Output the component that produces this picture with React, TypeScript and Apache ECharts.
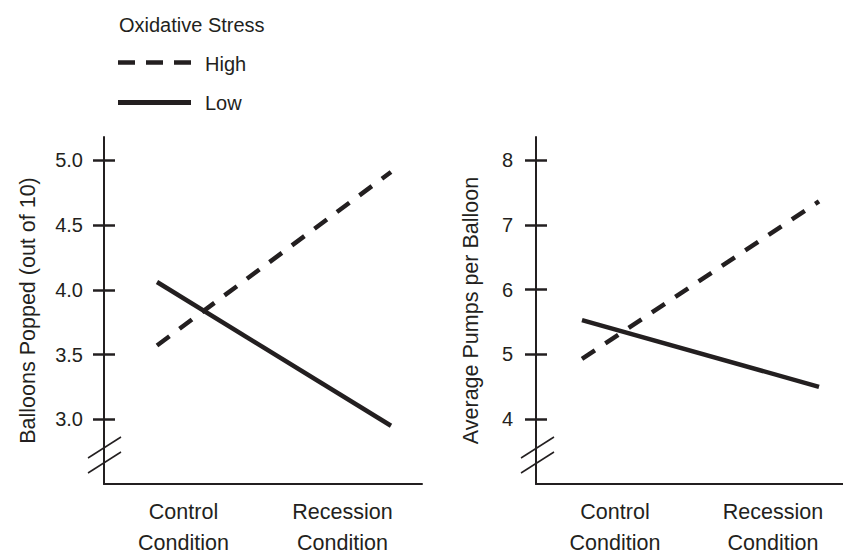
import { useEffect, useRef } from "react";
import * as echarts from "echarts";

const conditions = ["Control\nCondition", "Recession\nCondition"];
const stressLevels = ["High", "Low"];
const legendTitle = "Oxidative Stress";
const balloonsHigh = [3.57, 4.91];
const balloonsLow = [4.06, 2.95];
const pumpsHigh = [4.93, 7.36];
const pumpsLow = [5.53, 4.5];
const balloonsTicks = [3.0, 3.5, 4.0, 4.5, 5.0];
const pumpsTicks = [4, 5, 6, 7, 8];
const balloonsTitle = "Balloons Popped (out of 10)";
const pumpsTitle = "Average Pumps per Balloon";

const INK = "#231f20";
const FONT = "'Liberation Sans', Arial, sans-serif";

function frameX(gridIndex: number) {
  return {
    gridIndex,
    type: "category",
    data: conditions,
    boundaryGap: true,
    axisLine: { show: true, onZero: false, lineStyle: { color: INK, width: 2 } },
    axisTick: { show: false },
    axisLabel: {
      interval: 0,
      hideOverlap: false,
      margin: 6,
      formatter: (v: string) => {
        const [first, second] = v.split("\n");
        return `{a|${first}}\n{b|${second}}`;
      },
      rich: {
        a: { color: INK, fontSize: 21.5, fontFamily: FONT, lineHeight: 44 },
        b: { color: INK, fontSize: 21.5, fontFamily: FONT, lineHeight: 18 },
      },
    },
    splitLine: { show: false },
  };
}

function dataX(gridIndex: number) {
  return { gridIndex, type: "category", data: conditions, boundaryGap: false, show: false };
}

function frameY(gridIndex: number, min: number, max: number, ticks: number[], title: string, nameGap: number, digits: number, margin: number) {
  return [
    {
      gridIndex,
      type: "value",
      position: "left",
      min,
      max,
      name: title,
      nameLocation: "middle",
      nameGap,
      nameTextStyle: { color: INK, fontSize: 21.5, fontFamily: FONT },
      axisLine: { show: true, lineStyle: { color: INK, width: 2 } },
      axisTick: { show: true, inside: false, length: 11, customValues: ticks, lineStyle: { color: INK, width: 2.5 } },
      axisLabel: {
        show: true,
        customValues: ticks,
        color: INK,
        fontSize: 20,
        fontFamily: FONT,
        margin,
        formatter: (v: number) => v.toFixed(digits),
      },
      splitLine: { show: false },
    },
    {
      gridIndex,
      type: "value",
      position: "left",
      min,
      max,
      axisLine: { show: false },
      axisTick: { show: true, inside: true, length: 11, customValues: ticks, lineStyle: { color: INK, width: 2.5 } },
      axisLabel: { show: false },
      splitLine: { show: false },
    },
  ];
}

function dataY(gridIndex: number, min: number, max: number) {
  return { gridIndex, type: "value", min, max, show: false, splitLine: { show: false } };
}

function lineSeries(name: string, data: number[], xAxisIndex: number, yAxisIndex: number, dashed: boolean) {
  return {
    type: "line",
    name,
    data,
    xAxisIndex,
    yAxisIndex,
    symbol: "none",
    silent: true,
    lineStyle: { color: INK, width: 4.5, type: dashed ? [15.5, 12.5] : "solid", cap: "butt" },
  };
}

function breakMarks(x: number) {
  return [
    { type: "line", shape: { x1: x - 16, y1: 458, x2: x + 17, y2: 437 }, style: { stroke: INK, lineWidth: 1.5 } },
    { type: "line", shape: { x1: x - 16, y1: 473, x2: x + 17, y2: 452 }, style: { stroke: INK, lineWidth: 1.5 } },
  ];
}

export default function App() {
  const ref = useRef<HTMLDivElement>(null);
  useEffect(() => {
    if (!ref.current) return;
    const chart = echarts.init(ref.current, null, { renderer: "svg" });
    const g = { top: 137, height: 347, containLabel: false, outerBoundsMode: "none" };
    const option = {
      animation: false,
      backgroundColor: "#ffffff",
      grid: [
        { ...g, left: 104, width: 318 },
        { ...g, left: 157, width: 234 },
        { ...g, left: 536, width: 316 },
        { ...g, left: 582, width: 237 },
      ],
      xAxis: [frameX(0), dataX(1), frameX(2), dataX(3)],
      yAxis: [
        ...frameY(0, 2.5, 5.18, balloonsTicks, balloonsTitle, 65, 1, 21),
        dataY(1, 2.5, 5.18),
        ...frameY(2, 3, 8.355, pumpsTicks, pumpsTitle, 54, 0, 23),
        dataY(3, 3, 8.355),
      ],
      series: [
        lineSeries(stressLevels[0], balloonsHigh, 1, 2, true),
        lineSeries(stressLevels[1], balloonsLow, 1, 2, false),
        lineSeries(stressLevels[0], pumpsHigh, 3, 5, true),
        lineSeries(stressLevels[1], pumpsLow, 3, 5, false),
      ],
      graphic: [
        { type: "text", x: 119, y: 25, style: { text: legendTitle, fill: INK, fontSize: 20, fontFamily: FONT, verticalAlign: "middle" } },
        { type: "line", shape: { x1: 118, y1: 62.5, x2: 191, y2: 62.5 }, style: { stroke: INK, lineWidth: 4.5, lineDash: [17, 11] } },
        { type: "text", x: 205, y: 63.5, style: { text: stressLevels[0], fill: INK, fontSize: 20, fontFamily: FONT, verticalAlign: "middle" } },
        { type: "line", shape: { x1: 118, y1: 102.5, x2: 191, y2: 102.5 }, style: { stroke: INK, lineWidth: 5 } },
        { type: "text", x: 205, y: 103, style: { text: stressLevels[1], fill: INK, fontSize: 20, fontFamily: FONT, verticalAlign: "middle" } },
        ...breakMarks(104),
        ...breakMarks(537),
      ],
    };
    chart.setOption(option as any);
    return () => chart.dispose();
  }, []);
  return <div ref={ref} style={{ position: "absolute", left: 0, top: 0, width: 843, height: 556 }} />;
}
